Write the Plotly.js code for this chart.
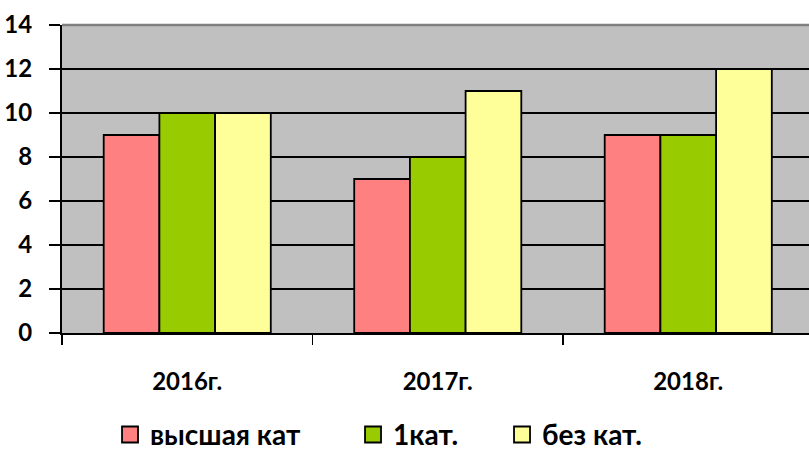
<!DOCTYPE html>
<html>
<head>
<meta charset="utf-8">
<script src="https://cdn.plot.ly/plotly-3.0.1.min.js"></script>
<style>html,body{margin:0;padding:0;background:#fff;}#chart{width:809px;height:452px;}</style>
</head>
<body>
<div id="chart"></div>
<script>
const categories = ['2016г.', '2017г.', '2018г.'];
const seriesNames = ['высшая кат', '1кат.', 'без кат.'];
const vysshaya = [9, 7, 9];
const pervaya = [10, 8, 9];
const bezKat = [10, 11, 12];
const yTicks = [0, 2, 4, 6, 8, 10, 12, 14];

const colors = ['#FF8080', '#99CC00', '#FFFF99'];
const values = [vysshaya, pervaya, bezKat];
const FONT = 'Lato, "Noto Sans", "DejaVu Sans", sans-serif';

const traces = values.map((v, i) => ({
  type: 'bar',
  name: seriesNames[i],
  x: categories,
  y: v,
  marker: {color: colors[i], line: {color: '#000', width: 1.8}},
  hoverinfo: 'skip'
}));

const layout = {
  width: 809, height: 452,
  margin: {l: 62, r: 0, t: 25, b: 119},
  paper_bgcolor: '#fff',
  plot_bgcolor: '#C0C0C0',
  barmode: 'group',
  bargap: 0.333,
  bargroupgap: 0,
  font: {family: FONT, color: '#000'},
  xaxis: {
    type: 'category',
    automargin: false,
    range: [-0.5, 2.482],
    tickson: 'boundaries',
    ticks: 'outside', ticklen: 10, tickwidth: 1.5, tickcolor: '#000',
    showline: true, linecolor: '#000', linewidth: 2,
    showgrid: false,
    tickfont: {family: FONT, size: 24, color: '#000', weight: 'bold'},
    ticklabelstandoff: 26
  },
  yaxis: {
    automargin: false,
    range: [0, 14],
    tickvals: yTicks,
    ticktext: yTicks.map(String),
    ticks: 'outside', ticklen: 11, tickwidth: 1.5, tickcolor: '#000',
    showline: true, linecolor: '#000', linewidth: 2,
    showgrid: true, gridcolor: '#000', gridwidth: 1.5,
    zeroline: false,
    tickfont: {family: FONT, size: 24, color: '#000', weight: 'bold'},
    ticklabelstandoff: 12
  },
  legend: {
    orientation: 'h',
    xref: 'container', yref: 'container',
    x: 0.136, xanchor: 'left',
    y: 0.038, yanchor: 'middle',
    font: {family: FONT, size: 28, color: '#000', weight: 'bold'},
    bgcolor: 'rgba(0,0,0,0)'
  },
  shapes: [{
    type: 'line', xref: 'paper', yref: 'paper',
    x0: 0, x1: 1, y0: 1, y1: 1,
    line: {color: '#808080', width: 2.5}
  }],
  showlegend: true
};

Plotly.newPlot('chart', traces, layout, {displayModeBar: false, staticPlot: true}).then(() => {
  document.querySelectorAll('#chart .legend .legendpoints path').forEach(p => {
    p.setAttribute('d', 'M8,8H-8V-8H8Z');
  });
  // remove legend clipping so the widened entries stay visible
  document.querySelectorAll('#chart .legend, #chart .legend *').forEach(el => {
    el.removeAttribute('clip-path');
  });
  // widen spacing between legend entries to match the reference
  const offsets = [0, 243, 392];
  const items = document.querySelectorAll('#chart .legend .traces');
  let baseX = null;
  items.forEach((g, i) => {
    const t = g.getAttribute('transform') || '';
    const m = t.match(/translate\(([-\d.]+)[ ,]+([-\d.]+)\)/);
    if (!m) return;
    const x = parseFloat(m[1]), y = parseFloat(m[2]);
    if (baseX === null) baseX = x;
    if (i < offsets.length) g.setAttribute('transform', 'translate(' + (baseX + offsets[i]) + ',' + y + ')');
  });
});
</script>
</body>
</html>
